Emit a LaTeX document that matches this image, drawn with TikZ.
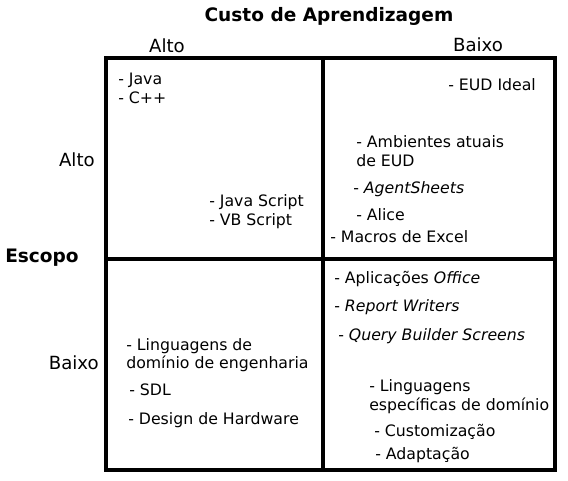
\documentclass[tikz,border=0pt]{standalone}
\usepackage{fontspec}
\setmainfont{DejaVu Sans}
\begin{document}
\begin{tikzpicture}[x=0.75pt,y=-0.75pt,
  item/.style={anchor=base west,inner sep=0pt,font=\fontsize{11.8}{14.25}\selectfont,align=left},
  axis/.style={inner sep=0pt,font=\fontsize{13.6}{16}\selectfont},
  bold/.style={inner sep=0pt,font=\fontsize{13.9}{16}\selectfont\bfseries},
  frame/.style={line width=2.6pt}]
\useasboundingbox (0,0) rectangle (568,480);
\fill[white] (0,0) rectangle (568,480);
% frame
\coordinate (tl) at (106,58);
\coordinate (br) at (555,470);
\coordinate (mt) at (323,58);
\coordinate (mb) at (323,470);
\coordinate (ml) at (106,259);
\coordinate (mr) at (555,259);
\draw[frame] (tl) rectangle (br);
\draw[frame] (mt) -- (mb);
\draw[frame] (ml) -- (mr);
% headings
\node[bold,anchor=base] (title) at (329,21) {Custo de Aprendizagem};
\node[axis,anchor=base] (altoT) at (167,52) {Alto};
\node[axis,anchor=base] (baixoT) at (478,51) {Baixo};
\node[axis,anchor=base east] (altoL) at (95,166) {Alto};
\node[bold,anchor=base] (escopo) at (42,262) {Escopo};
\node[axis,anchor=base east] (baixoL) at (99,369) {Baixo};
% top-left
\node[item] (java) at (118,84) {- Java};
\node[item] (cpp) at (118,103) {- C++};
\node[item] (js) at (209,206) {- Java Script};
\node[item] (vb) at (209,225) {- VB Script};
% top-right
\node[item] (eud) at (448,90) {- EUD Ideal};
\node[item] (amb1) at (356,147) {- Ambientes atuais};
\node[item] (amb2) at (356,166) {de EUD};
\node[item] (agent) at (353,193) {- \textit{AgentSheets}};
\node[item] (alice) at (356,220) {- Alice};
\node[item] (macros) at (330,242) {- Macros de Excel};
% bottom-right
\node[item] (office) at (334,283) {- Aplicações \textit{Office}};
\node[item] (report) at (334,311) {- \textit{Report Writers}};
\node[item] (query) at (338,340) {- \textit{Query Builder Screens}};
\node[item] (ling1) at (369,391) {- Linguagens};
\node[item] (ling2) at (369,410) {específicas de domínio};
\node[item] (custom) at (374,436) {- Customização};
\node[item] (adapt) at (375,459) {- Adaptação};
% bottom-left
\node[item] (eng1) at (126,350) {- Linguagens de};
\node[item] (eng2) at (126,368) {domínio de engenharia};
\node[item] (sdl) at (129,395) {- SDL};
\node[item] (hw) at (128,424) {- Design de Hardware};
\end{tikzpicture}
\end{document}
